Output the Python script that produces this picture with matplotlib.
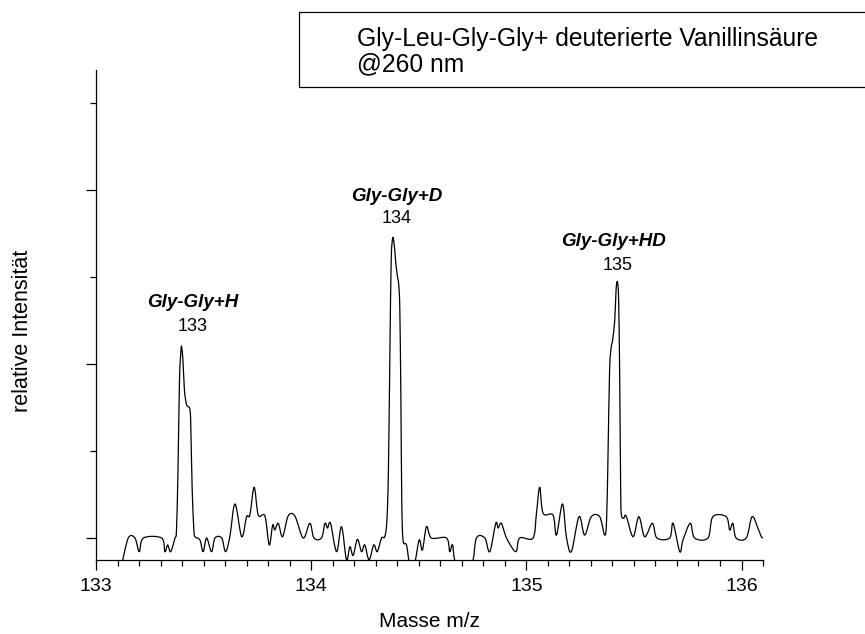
import numpy as np
import matplotlib
matplotlib.use("Agg")
import matplotlib.pyplot as plt
from matplotlib.patches import Rectangle, PathPatch
from matplotlib.path import Path
from matplotlib.ticker import MultipleLocator

plt.rcParams['font.family'] = ['Liberation Sans', 'DejaVu Sans']

# Mass spectrum trace (m/z, relative intensity)
mz = [
    133.120, 133.150, 133.181, 133.201, 133.220, 133.305, 133.320, 133.333, 133.347, 133.367,
    133.374, 133.381, 133.388, 133.395, 133.398, 133.404, 133.411, 133.420, 133.429, 133.437,
    133.441, 133.447, 133.455, 133.460,
    133.483, 133.498, 133.514, 133.537, 133.553, 133.584, 133.602, 133.622, 133.646, 133.677,
    133.700, 133.715, 133.735, 133.754, 133.785, 133.805, 133.821, 133.831, 133.847, 133.867,
    133.893, 133.924, 133.963, 133.994, 134.013, 134.048, 134.064, 134.076, 134.090, 134.118,
    134.141, 134.164, 134.180, 134.195, 134.215, 134.234, 134.249, 134.269, 134.291, 134.307,
    134.327, 134.342,
    134.352, 134.359, 134.366, 134.372, 134.379, 134.386, 134.393, 134.400, 134.407, 134.412,
    134.417, 134.421, 134.427,
    134.443, 134.458, 134.480, 134.502, 134.517, 134.536, 134.559, 134.629, 134.644, 134.657,
    134.675, 134.745, 134.768, 134.807, 134.830, 134.858, 134.869, 134.884, 134.908, 134.951,
    134.969, 135.031, 135.047, 135.062, 135.078, 135.124, 135.140, 135.168, 135.186, 135.209,
    135.245, 135.271, 135.302, 135.341, 135.364,
    135.373, 135.380, 135.387, 135.394, 135.401, 135.411, 135.417, 135.423, 135.429, 135.434,
    135.438, 135.441,
    135.452, 135.464, 135.496, 135.523, 135.550, 135.586, 135.607, 135.666, 135.682, 135.713,
    135.728, 135.762, 135.782, 135.844, 135.867, 135.929, 135.945, 135.960, 135.975, 136.022,
    136.049, 136.076, 136.092, 136.100,
]
intensity = [
    -0.300, 0.000, 0.000, -0.157, 0.000, 0.000, -0.157, -0.080, -0.157, 0.000,
    0.092, 0.782, 1.816, 2.161, 2.195, 2.046, 1.701, 1.540, 1.509, 1.471,
    1.241, 0.552, 0.092, 0.015,
    -0.023, -0.157, 0.000, -0.157, 0.000, 0.000, -0.157, 0.015, 0.391, 0.015,
    0.245, 0.264, 0.583, 0.264, 0.253, -0.080, 0.149, 0.092, 0.169, 0.015,
    0.253, 0.253, 0.000, 0.169, 0.000, 0.000, 0.169, 0.115, 0.169, -0.157,
    0.130, -0.250, -0.100, -0.200, -0.015, -0.157, -0.080, -0.250, -0.080, -0.157,
    0.000, 0.015,
    0.207, 0.782, 2.161, 3.195, 3.448, 3.368, 3.172, 3.023, 2.908, 2.621,
    1.586, 0.437, -0.023,
    -0.080, -0.300, -0.300, -0.023, -0.138, 0.130, 0.000, 0.000, -0.157, -0.080,
    -0.300, -0.300, 0.000, 0.000, -0.157, 0.169, 0.115, 0.169, 0.000, -0.157,
    0.000, 0.000, 0.284, 0.583, 0.284, 0.264, 0.034, 0.391, 0.015, -0.157,
    0.245, 0.034, 0.245, 0.245, 0.034,
    0.207, 1.011, 1.931, 2.184, 2.276, 2.506, 2.851, 2.943, 2.736, 1.816,
    0.667, 0.284,
    0.226, 0.253, 0.015, 0.245, 0.015, 0.169, 0.000, 0.000, 0.169, -0.157,
    -0.023, 0.169, 0.000, 0.000, 0.245, 0.245, 0.092, 0.169, 0.000, 0.000,
    0.245, 0.115, 0.015, 0.000,
]

# Assigned ions
peak_masses = [133, 134, 135]
peak_names = ["Gly-Gly+H", "Gly-Gly+D", "Gly-Gly+HD"]
peak_labels = ["133", "134", "135"]

x_ticks = [133, 134, 135, 136]
legend_text = "Gly-Leu-Gly-Gly+ deuterierte Vanillinsäure\n@260 nm"

# label offsets (points) relative to each peak top: (number dx, number dy, name dx, name dy)
label_offsets = [(8, 15, 8, 32), (3, 14, 3, 30), (0, 12, -3, 29)]


def spline_path(x, y):
    """Smooth Bezier path through the points (Catmull-Rom style tangents)."""
    pts = np.column_stack([x, y])
    ext = np.vstack([pts[0], pts, pts[-1]])
    verts = [pts[0]]
    codes = [Path.MOVETO]
    for i in range(len(pts) - 1):
        p0, p1, p2, p3 = ext[i], ext[i + 1], ext[i + 2], ext[i + 3]
        c1 = p1 + (p2 - p0) / 6.0
        c2 = p2 - (p3 - p1) / 6.0
        verts += [c1, c2, p2]
        codes += [Path.CURVE4] * 3
    return Path(np.array(verts), codes)


fig = plt.figure(figsize=(8.65, 6.34), dpi=100)
ax = fig.add_axes([0.1110, 0.1167, 0.7711, 0.7729])

mz_arr = np.array(mz)
int_arr = np.array(intensity)
trace = PathPatch(spline_path(mz_arr, int_arr), facecolor='none', edgecolor='black',
                  lw=0.9, joinstyle='round')
ax.add_patch(trace)

ax.set_xlim(133.0, 136.1)
ax.set_ylim(-0.253, 5.38)

for s in ['top', 'right']:
    ax.spines[s].set_visible(False)
for s in ['left', 'bottom']:
    ax.spines[s].set_linewidth(0.9)

ax.set_xticks(x_ticks)
ax.set_xticklabels([str(t) for t in x_ticks])
ax.xaxis.set_minor_locator(MultipleLocator(0.1))
ax.yaxis.set_major_locator(MultipleLocator(2))
ax.yaxis.set_minor_locator(MultipleLocator(1))
ax.set_yticklabels([])
ax.tick_params(axis='both', which='major', direction='out', length=7, width=0.9,
               labelsize=14, pad=6)
ax.tick_params(axis='both', which='minor', direction='out', length=4, width=0.9)

ax.set_xlabel("Masse m/z", fontsize=15, labelpad=12)
ax.set_ylabel("relative Intensität", fontsize=15.5)
ax.yaxis.set_label_coords(-74 / 667, 0.468)
ax.yaxis.label.set_verticalalignment('center')

for m, name, lab, (ndx, ndy, tdx, tdy) in zip(peak_masses, peak_names, peak_labels, label_offsets):
    sel = (mz_arr > m + 0.2) & (mz_arr < m + 0.6)
    i = np.argmax(np.where(sel, int_arr, -np.inf))
    px, py = mz_arr[i], int_arr[i]
    ax.annotate(lab, xy=(px, py), xytext=(ndx, ndy), textcoords='offset points',
                ha='center', va='center', fontsize=13)
    ax.annotate(name, xy=(px, py), xytext=(tdx, tdy), textcoords='offset points',
                ha='center', va='center', fontsize=13.5, fontweight='bold', fontstyle='italic')

# Title box in the upper right
box = Rectangle((299 / 865, 1 - 87 / 634), 0.70, 75 / 634, transform=fig.transFigure,
                facecolor='white', edgecolor='black', lw=0.9, clip_on=False)
fig.patches.append(box)
fig.text(357 / 865, 1 - 51.5 / 634, legend_text, ha='left', va='center', fontsize=17.7,
         linespacing=1.1)

fig.savefig("out.png", dpi=100)
